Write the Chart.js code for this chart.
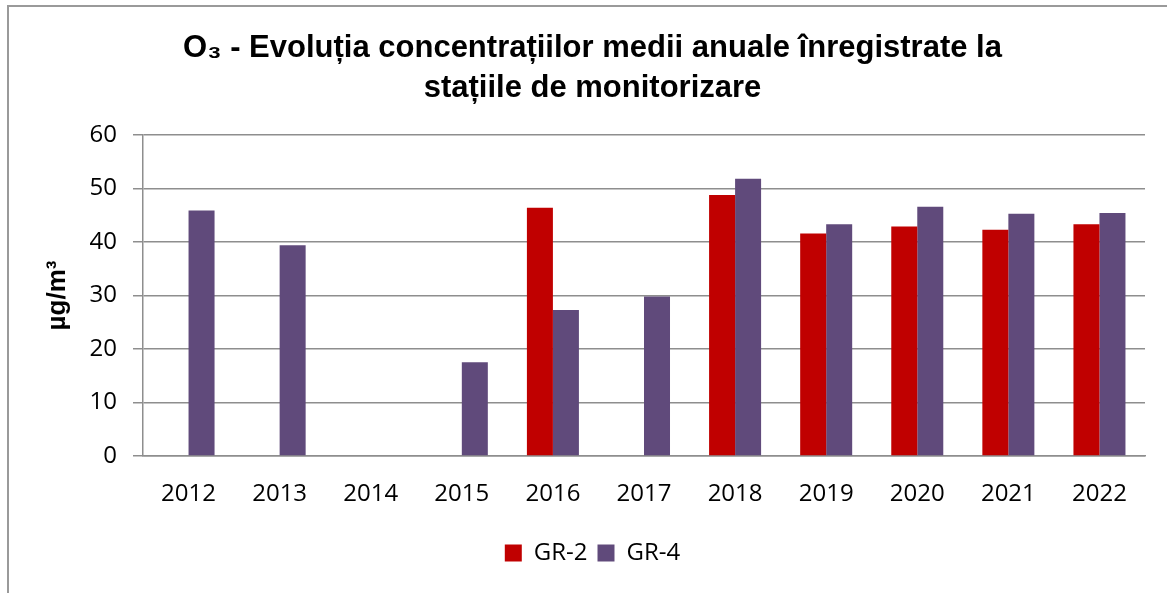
<!DOCTYPE html>
<html>
<head>
<meta charset="utf-8">
<script src="https://cdn.jsdelivr.net/npm/chart.js@4"></script>
<style>
  html, body { margin: 0; padding: 0; background: #fff; }
  #wrap { position: relative; width: 1167px; height: 593px; overflow: hidden; }
  #frame { position: absolute; left: 7px; top: 5px; width: 1200px; height: 640px;
           border-left: 2px solid #9a9a9a; border-top: 2px solid #9a9a9a; }
  canvas { position: absolute; left: 0; top: 0; }
</style>
</head>
<body>
<div id="wrap">
  <div id="frame"></div>
  <canvas id="chart" width="1167" height="593"></canvas>
</div>
<script>
const years = ['2012', '2013', '2014', '2015', '2016', '2017', '2018', '2019', '2020', '2021', '2022'];
const gr2 = [null, null, null, null, 46.4, null, 48.8, 41.6, 42.9, 42.3, 43.3];
const gr4 = [45.9, 39.4, null, 17.5, 27.3, 29.8, 51.8, 43.3, 46.6, 45.3, 45.4];
const yTicks = [0, 10, 20, 30, 40, 50, 60];

const tickFont = { family: 'Open Sans', size: 24 };
const gridGray = '#8e8e8e';

const ctx = document.getElementById('chart');

// Chart
const chart = new Chart(ctx, {
    type: 'bar',
    data: {
        labels: years,
        datasets: [
            { label: 'GR-2', data: gr2, backgroundColor: '#C00000' },
            { label: 'GR-4', data: gr4, backgroundColor: '#604A7B' }
        ]
    },
    options: {
        responsive: false,
        animation: false,
        layout: { padding: { left: 40, right: 22, top: 0, bottom: 18 } },
        datasets: { bar: { categoryPercentage: 0.571, barPercentage: 1.0 } },
        plugins: {
            title: {
                display: true,
                text: ['O\u2083 - Evolu\u021bia concentra\u021biilor medii anuale \u00eenregistrate la',
                       'sta\u021biile de monitorizare'],
                font: { family: 'Liberation Sans', size: 31, weight: 'bold', lineHeight: 1.29 },
                color: '#000',
                padding: { top: 28, bottom: 27 }
            },
            legend: {
                position: 'bottom',
                labels: {
                    font: tickFont,
                    color: '#000',
                    boxWidth: 17,
                    boxHeight: 17,
                    padding: 10
                }
            },
            tooltip: { enabled: false }
        },
        scales: {
            x: {
                grid: { display: false },
                border: { color: gridGray, width: 1.5 },
                ticks: { font: tickFont, color: '#000', padding: 16, maxRotation: 0 },
                afterFit: (scale) => { scale.height = 75; }
            },
            y: {
                min: 0,
                max: 60,
                afterBuildTicks: (scale) => { scale.ticks = yTicks.map(v => ({ value: v })); },
                grid: { color: gridGray, lineWidth: 1.5, tickLength: 10 },
                border: { color: gridGray, width: 1.5 },
                ticks: { font: tickFont, color: '#000', padding: 16 },
                title: {
                    display: true,
                    text: '\u00b5g/m\u00b3',
                    font: { family: 'Liberation Sans', size: 26, weight: 'bold' },
                    color: '#000',
                    padding: { top: 2, bottom: 0 }
                },
                afterFit: (scale) => { scale.width = 103; }
            }
        }
    }
});
</script>
</body>
</html>
